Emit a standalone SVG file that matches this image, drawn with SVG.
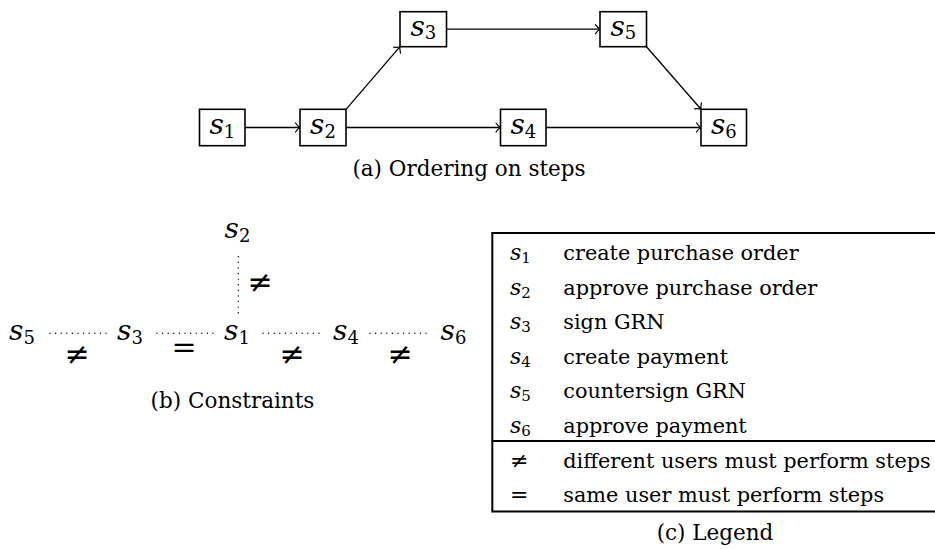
<svg xmlns="http://www.w3.org/2000/svg" width="935" height="549" viewBox="0 0 935 549">
<style>
  text { font-family: "DejaVu Serif", serif; fill: #000; }
  .m { font-size: 28px; text-anchor: middle; }
  .it { font-style: italic; }
  .sub { font-size: 18px; }
  .cap { font-size: 21.5px; text-anchor: middle; }
  .lg { font-size: 20.8px; }
  .ls { font-size: 22px; }
  .lsub { font-size: 15px; }
  .rel { font-size: 30px; text-anchor: middle; }
  .box { fill: #fff; stroke: #000; stroke-width: 1.6; }
  .edge { fill: none; stroke: #000; stroke-width: 1.3; marker-end: url(#arr); }
  .dot { fill: none; stroke: #000; stroke-width: 1.4; stroke-linecap: round; stroke-dasharray: 0 5.6; }
  .frame { fill: none; stroke: #000; stroke-width: 2; }
</style>
<defs>
  <marker id="arr" viewBox="-6 -6 8 12" refX="0" refY="0" markerWidth="8" markerHeight="12" markerUnits="userSpaceOnUse" orient="auto" overflow="visible">
    <path d="M -4.5,-4.5 C -2.5,-1.6 -1,-0.5 0,0 C -1,0.5 -2.5,1.6 -4.5,4.5" fill="none" stroke="#000" stroke-width="1.2" stroke-linecap="round"/>
  </marker>
</defs>

<!-- (a) Ordering on steps -->
<g id="connectors-a">
  <line class="edge" x1="245" y1="127.5" x2="300" y2="127.5"/>
  <line class="edge" x1="346" y1="127.5" x2="500.5" y2="127.5"/>
  <line class="edge" x1="546" y1="127.5" x2="701" y2="127.5"/>
  <line class="edge" x1="446.5" y1="29.2" x2="600" y2="29.2"/>
  <line class="edge" x1="346" y1="109.3" x2="400" y2="46.7"/>
  <line class="edge" x1="646.5" y1="46.7" x2="701" y2="109.3"/>
</g>
<g id="a-s1"><rect class="box" x="199.5" y="109.3" width="45.5" height="36.4"/><text class="m" x="222.3" y="134"><tspan class="it">s</tspan><tspan class="sub" dy="3.5">1</tspan></text></g>
<g id="a-s2"><rect class="box" x="300" y="109.3" width="46" height="36.4"/><text class="m" x="323" y="134"><tspan class="it">s</tspan><tspan class="sub" dy="3.5">2</tspan></text></g>
<g id="a-s3"><rect class="box" x="400" y="11.7" width="46.5" height="35"/><text class="m" x="423.3" y="35.5"><tspan class="it">s</tspan><tspan class="sub" dy="3.5">3</tspan></text></g>
<g id="a-s4"><rect class="box" x="500.5" y="109.3" width="45.5" height="36.4"/><text class="m" x="523.3" y="134"><tspan class="it">s</tspan><tspan class="sub" dy="3.5">4</tspan></text></g>
<g id="a-s5"><rect class="box" x="600" y="11.7" width="46.5" height="35"/><text class="m" x="623.3" y="35.5"><tspan class="it">s</tspan><tspan class="sub" dy="3.5">5</tspan></text></g>
<g id="a-s6"><rect class="box" x="701" y="109.3" width="45.5" height="36.4"/><text class="m" x="723.8" y="134"><tspan class="it">s</tspan><tspan class="sub" dy="3.5">6</tspan></text></g>
<text class="cap" x="469" y="176">(a) Ordering on steps</text>

<!-- (b) Constraints -->
<g id="connectors-b">
  <line class="dot" x1="50" y1="333.3" x2="107" y2="333.3"/>
  <line class="dot" x1="157" y1="333.3" x2="215" y2="333.3"/>
  <line class="dot" x1="263" y1="333.3" x2="319" y2="333.3"/>
  <line class="dot" x1="370" y1="333.3" x2="427" y2="333.3"/>
  <line class="dot" x1="238.3" y1="256.7" x2="238.3" y2="313"/>
  <text class="rel" x="77" y="364">≠</text>
  <text class="rel" x="184" y="357">=</text>
  <text class="rel" x="292" y="364">≠</text>
  <text class="rel" x="400" y="364">≠</text>
  <text class="rel" x="260" y="292">≠</text>
</g>
<g id="b-s5"><text class="m" x="22" y="340"><tspan class="it">s</tspan><tspan class="sub" dy="3.5">5</tspan></text></g>
<g id="b-s3"><text class="m" x="130" y="340"><tspan class="it">s</tspan><tspan class="sub" dy="3.5">3</tspan></text></g>
<g id="b-s1"><text class="m" x="237" y="340"><tspan class="it">s</tspan><tspan class="sub" dy="3.5">1</tspan></text></g>
<g id="b-s4"><text class="m" x="346" y="340"><tspan class="it">s</tspan><tspan class="sub" dy="3.5">4</tspan></text></g>
<g id="b-s6"><text class="m" x="453.5" y="340"><tspan class="it">s</tspan><tspan class="sub" dy="3.5">6</tspan></text></g>
<g id="b-s2"><text class="m" x="237.5" y="238"><tspan class="it">s</tspan><tspan class="sub" dy="3.5">2</tspan></text></g>
<text class="cap" x="232.5" y="408">(b) Constraints</text>

<!-- (c) Legend -->
<g id="legend">
  <polyline class="frame" points="945,233 492.3,233 492.3,511.5 945,511.5"/>
  <line class="frame" x1="492.3" y1="441" x2="945" y2="441"/>
  <text class="ls" x="510" y="260"><tspan class="it">s</tspan><tspan class="lsub" dy="3">1</tspan></text>
  <text class="lg" x="563.3" y="260">create purchase order</text>
  <text class="ls" x="510" y="294.5"><tspan class="it">s</tspan><tspan class="lsub" dy="3">2</tspan></text>
  <text class="lg" x="563.3" y="294.5">approve purchase order</text>
  <text class="ls" x="510" y="329"><tspan class="it">s</tspan><tspan class="lsub" dy="3">3</tspan></text>
  <text class="lg" x="563.3" y="329">sign GRN</text>
  <text class="ls" x="510" y="363.5"><tspan class="it">s</tspan><tspan class="lsub" dy="3">4</tspan></text>
  <text class="lg" x="563.3" y="363.5">create payment</text>
  <text class="ls" x="510" y="398"><tspan class="it">s</tspan><tspan class="lsub" dy="3">5</tspan></text>
  <text class="lg" x="563.3" y="398">countersign GRN</text>
  <text class="ls" x="510" y="432.5"><tspan class="it">s</tspan><tspan class="lsub" dy="3">6</tspan></text>
  <text class="lg" x="563.3" y="432.5">approve payment</text>
  <text class="ls" x="510" y="468">≠</text>
  <text class="lg" x="563.3" y="468">different users must perform steps</text>
  <text class="ls" x="510" y="502">=</text>
  <text class="lg" x="563.3" y="502">same user must perform steps</text>
</g>
<text class="cap" x="715" y="540">(c) Legend</text>
</svg>
